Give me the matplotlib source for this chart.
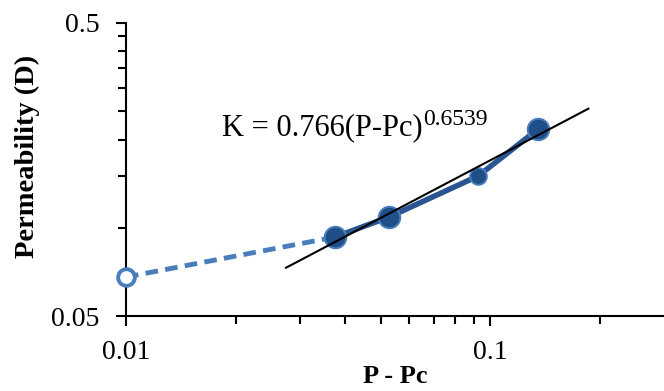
import numpy as np
import matplotlib.pyplot as plt
from matplotlib.ticker import FixedLocator, NullFormatter

# measured points
p_meas = [0.0375, 0.0528, 0.0927, 0.1355]
k_meas = [0.093, 0.1089, 0.1503, 0.2174]

# extrapolated point at P-Pc = 0.01
p_extra = [0.01, 0.0375]
k_extra = [0.0679, 0.093]

# power-law fit K = a (P-Pc)^b
fit_a = 0.766
fit_b = 0.6539
fit_range = [0.0275, 0.186]

xticks = [0.01, 0.1]
xtick_labels = ["0.01", "0.1"]
yticks = [0.05, 0.5]
ytick_labels = ["0.05", "0.5"]

plt.rcParams['font.family'] = ['Liberation Serif', 'DejaVu Serif']

W, H = 664, 391
fig = plt.figure(figsize=(W / 100, H / 100), dpi=100)
ax = fig.add_axes([126 / W, 1 - 316 / H, 1 - 126 / W, 293 / H])
ax.set_xscale('log')
ax.set_yscale('log')
ax.set_xlim(0.01, 0.30)
ax.set_ylim(0.05, 0.5)

# dashed extrapolation
ax.plot(p_extra, k_extra, color='#4a7ebb', lw=3.5, ls=(0, (2.6, 1.5)), zorder=2)
ax.plot(p_extra[:1], k_extra[:1], 'o', ms=12, mfc='white', mec='#4a7ebb', mew=2.8,
        zorder=4, clip_on=False)

# measured data
ax.plot(p_meas, k_meas, color='#2a5593', lw=4, zorder=3)
sizes = [15.5, 15.5, 12, 15.5]
for x, y, s in zip(p_meas, k_meas, sizes):
    ax.plot([x], [y], 'o', ms=s, mfc='#1f4e89', mec='#4a7ebb', mew=1.4, zorder=4)

# fit line
xf = np.array(fit_range)
ax.plot(xf, fit_a * xf ** fit_b, color='black', lw=1.5, zorder=5)

# equation label, superscript as a second text placed after the first
eq = fig.text(222 / W, 1 - 135 / H, "K = 0.766(P-Pc)", fontsize=22,
              ha='left', va='baseline')
fig.canvas.draw()
bb = eq.get_window_extent()
fig.text(bb.x1 / W, 1 - 125 / H, "0.6539", fontsize=17, ha='left', va='baseline')

ax.spines['top'].set_visible(False)
ax.spines['right'].set_visible(False)
for s in ('left', 'bottom'):
    ax.spines[s].set_linewidth(1.5)

ax.xaxis.set_major_locator(FixedLocator(xticks))
ax.set_xticklabels(xtick_labels)
ax.xaxis.set_minor_locator(FixedLocator([0.02, 0.03, 0.04, 0.05, 0.06, 0.07, 0.08, 0.09, 0.2]))
ax.xaxis.set_minor_formatter(NullFormatter())
ax.yaxis.set_major_locator(FixedLocator(yticks))
ax.set_yticklabels(ytick_labels)
ax.yaxis.set_minor_locator(FixedLocator(np.arange(0.1, 0.46, 0.05)))
ax.yaxis.set_minor_formatter(NullFormatter())

ax.tick_params(which='both', direction='out', width=1.5, labelsize=20, colors='black')
ax.tick_params(which='major', length=7)
ax.tick_params(which='minor', length=6)
ax.tick_params(axis='x', which='major', pad=10)
ax.tick_params(axis='y', which='major', pad=12)

ax.set_xlabel("P - Pc", fontsize=19, fontweight='bold', va='bottom')
ax.set_ylabel("Permeability (D)", fontsize=20.5, fontweight='bold')
ax.xaxis.set_label_coords(0.5, (316 - 388) / 293)
ax.yaxis.set_label_coords((40 - 126) / 538, (316 - 156) / 293)

fig.savefig("out.png", dpi=100)
